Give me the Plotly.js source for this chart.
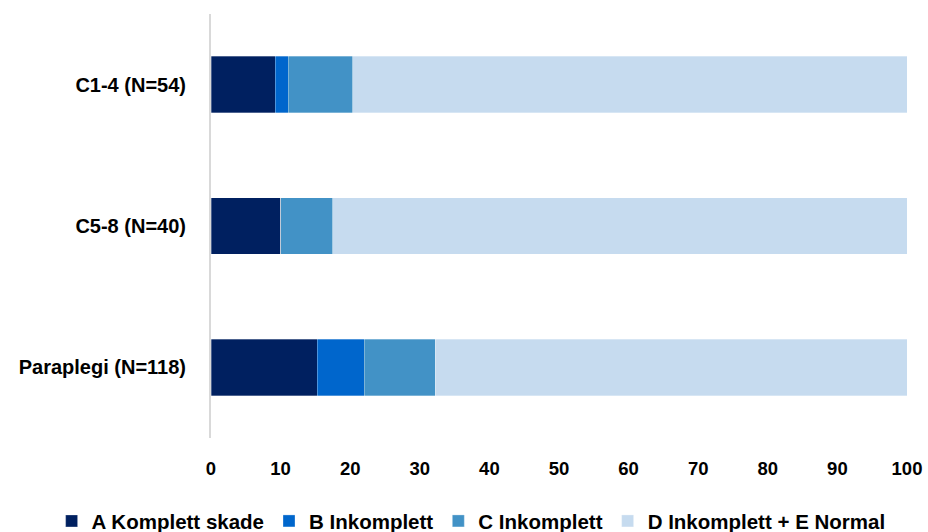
<!DOCTYPE html>
<html>
<head>
<meta charset="utf-8">
<script src="https://cdn.plot.ly/plotly-3.0.1.min.js"></script>
<style>html,body{margin:0;padding:0;background:#fff;}#chart{width:928px;height:532px;}</style>
</head>
<body>
<div id="chart"></div>
<script>
// Injury level groups (top to bottom)
const groups = ['C1-4 (N=54)', 'C5-8 (N=40)', 'Paraplegi (N=118)'];
// AIS severity categories
const seriesNames = ['A Komplett skade', 'B Inkomplett', 'C Inkomplett', 'D Inkomplett + E Normal'];
// Share of patients (%) per group
const aKomplett = [9.26, 10.0, 15.25];
const bInkomplett = [1.85, 0.0, 6.78];
const cInkomplett = [9.26, 7.5, 10.17];
const dInkomplettENormal = [79.63, 82.5, 67.8];
const colors = ['#002060', '#0066CC', '#4292C6', '#C6DBEF'];

const values = [aKomplett, bInkomplett, cInkomplett, dInkomplettENormal];
const font = "'Liberation Sans', Arial, sans-serif";

const traces = values.map((v, i) => ({
  type: 'bar',
  orientation: 'h',
  name: seriesNames[i],
  y: groups,
  x: v,
  marker: {color: colors[i], line: {color: 'rgba(255,255,255,0.6)', width: 0.5}},
  hoverinfo: 'x+name'
}));

const layout = {
  width: 928, height: 532,
  margin: {l: 211, r: 21, t: 14, b: 94, autoexpand: false},
  barmode: 'stack',
  bargap: 0.6,
  paper_bgcolor: '#fff', plot_bgcolor: '#fff',
  font: {family: font, size: 18, color: '#000'},
  xaxis: {
    range: [0, 100], dtick: 10, showgrid: false, zeroline: false,
    showline: false, ticks: '', ticklabelstandoff: 17,
    tickfont: {family: font, size: 18.5, color: '#000', weight: 'bold'}
  },
  yaxis: {
    autorange: 'reversed', showgrid: false, zeroline: false,
    showline: true, linecolor: '#d9d9d9', linewidth: 2, ticks: '',
    ticklabelstandoff: 19,
    tickfont: {family: font, size: 20, color: '#000', weight: 'bold'}
  },
  legend: {
    orientation: 'h', x: -0.229, xanchor: 'left', xref: 'paper',
    y: -0.196, yanchor: 'middle', yref: 'paper',
    font: {family: font, size: 20.5, color: '#000', weight: 'bold'},
    itemwidth: 30, traceorder: 'normal', tracegroupgap: 0
  },
  showlegend: true
};

Plotly.newPlot('chart', traces, layout, {displayModeBar: false, staticPlot: true});
</script>
</body>
</html>
